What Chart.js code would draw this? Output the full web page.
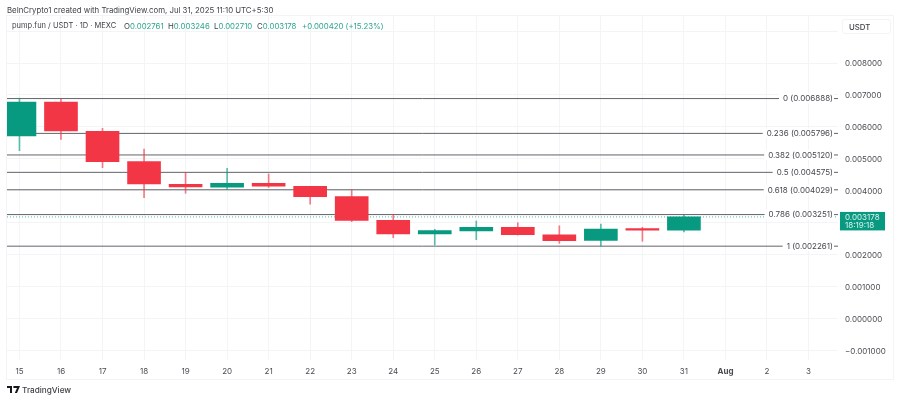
<!DOCTYPE html>
<html>
<head>
<meta charset="utf-8">
<script src="https://cdn.jsdelivr.net/npm/chart.js@4"></script>
<style>
  html, body { margin: 0; padding: 0; background: #fff; }
  body { width: 900px; height: 400px; position: relative; overflow: hidden; font-family: Inter, "Noto Sans", sans-serif; color: #3f4248; }
  canvas { position: absolute; left: 0; top: 0; }
  .txt { position: absolute; white-space: nowrap; font-size: 7.8px; line-height: 12px; }
  .up { color: #2aa58f; }
  #usdt { left: 842px; top: 19px; width: 49px; height: 15px; line-height: 15px; box-sizing: border-box; padding-left: 6px; border: 1px solid #f3f4f6; border-radius: 3px; font-weight: 500; }
  #tvname { font-size: 8.2px; font-weight: 500; }
</style>
</head>
<body>
<canvas id="grafica" width="900" height="400"></canvas>
<div class="txt" style="left:7px;top:4px">BeInCrypto1 created with TradingView.com, Jul 31, 2025 11:10 UTC+5:30</div>
<div class="txt" style="left:12px;top:20px;font-size:7.5px">pump.fun / USDT · 1D · MEXC</div>
<div class="txt" style="left:124px;top:20px">O<span class="up">0.002761</span></div>
<div class="txt" style="left:168px;top:20px">H<span class="up">0.003246</span></div>
<div class="txt" style="left:214px;top:20px">L<span class="up">0.002710</span></div>
<div class="txt" style="left:257px;top:20px">C<span class="up">0.003178</span></div>
<div class="txt up" style="left:302px;top:20px">+0.000420 (+15.23%)</div>
<div class="txt" id="usdt">USDT</div>
<svg style="position:absolute;left:7px;top:386px" width="13" height="8" viewBox="0 0 13 8">
  <path d="M0 0h5v7H3V2H0z M6.5 0H13L10 7H7.8L10 2H6.5z" fill="#16181d"/>
  <circle cx="7.6" cy="1" r="1" fill="#16181d"/>
</svg>
<div class="txt" id="tvname" style="left:22px;top:384px">TradingView</div>

<script>
const dias = [15, 16, 17, 18, 19, 20, 21, 22, 23, 24, 25, 26, 27, 28, 29, 30, 31];
const aperturas = [0.005715, 0.006780, 0.005860, 0.004915, 0.004200, 0.004107, 0.004232, 0.004138, 0.003812, 0.003072, 0.002643, 0.002737, 0.002853, 0.002620, 0.002445, 0.002810, 0.002761];
const maximos = [0.006900, 0.006875, 0.005956, 0.005307, 0.004577, 0.004700, 0.004524, 0.004138, 0.004020, 0.003260, 0.002790, 0.003050, 0.002997, 0.002900, 0.002956, 0.002853, 0.003246];
const minimos = [0.005254, 0.005610, 0.004720, 0.003780, 0.003918, 0.004040, 0.004100, 0.003574, 0.003030, 0.002527, 0.002298, 0.002464, 0.002610, 0.002350, 0.002266, 0.002414, 0.002710];
const cierres = [0.006780, 0.005871, 0.004910, 0.004210, 0.004116, 0.004232, 0.004138, 0.003812, 0.003072, 0.002643, 0.002746, 0.002853, 0.002620, 0.002433, 0.002800, 0.002760, 0.003178];

const fibRatios = ["0", "0.236", "0.382", "0.5", "0.618", "0.786", "1"];
const fibNiveles = [0.006888, 0.005796, 0.005120, 0.004575, 0.004029, 0.003251, 0.002261];
const fibTextos = ["0.006888", "0.005796", "0.005120", "0.004575", "0.004029", "0.003251", "0.002261"];

const xTicks = [15, 16, 17, 18, 19, 20, 21, 22, 23, 24, 25, 26, 27, 28, 29, 30, 31, 32, 33, 34];
const xTextos = ["15", "16", "17", "18", "19", "20", "21", "22", "23", "24", "25", "26", "27", "28", "29", "30", "31", "Aug", "2", "3"];
const yTicks = [0.009, 0.008, 0.007, 0.006, 0.005, 0.004, 0.003, 0.002, 0.001, 0, -0.001];
const yTextos = ["", "0.008000", "0.007000", "0.006000", "0.005000", "0.004000", "", "0.002000", "0.001000", "0.000000", "−0.001000"];

const precioActual = 0.003178;
const precioTexto = "0.003178";
const cuentaAtras = "18:19:18";

const VERDE = "#089981";
const ROJO = "#f23645";
const xMin = 14.7, xMax = 34.71;
const fuente = 'Inter, "Noto Sans", sans-serif';

const colores = dias.map((d, i) => cierres[i] >= aperturas[i] ? VERDE : ROJO);
const coloresMecha = dias.map((d, i) => cierres[i] >= aperturas[i] ? "rgba(8,153,129,.65)" : "rgba(242,54,69,.65)");

const datasets = [];
fibNiveles.forEach(n => {
  datasets.push({
    type: "line",
    data: [{ x: xMin, y: n }, { x: xMax, y: n }],
    borderColor: "#626469",
    borderWidth: 1,
    pointRadius: 0,
    order: 4
  });
});
datasets.push({
  type: "line",
  data: [{ x: xMin, y: precioActual }, { x: xMax, y: precioActual }],
  borderColor: "rgba(8,153,129,.7)",
  borderWidth: 1,
  borderDash: [1, 2],
  pointRadius: 0,
  order: 3
});
// mechas y cuerpos como barras flotantes
datasets.push({
  type: "bar",
  data: dias.map((d, i) => ({ x: d, y: [minimos[i], maximos[i]] })),
  backgroundColor: coloresMecha,
  barThickness: 1,
  grouped: false,
  order: 2
});
datasets.push({
  type: "bar",
  data: dias.map((d, i) => ({ x: d, y: [aperturas[i], cierres[i]] })),
  backgroundColor: colores,
  barThickness: 33,
  grouped: false,
  order: 1
});

const etiquetasPlugin = {
  id: "etiquetas",
  afterDatasetsDraw(chart) {
    const c = chart.ctx, y = chart.scales.y, area = chart.chartArea;
    c.save();
    c.font = "8px " + fuente;
    c.textBaseline = "middle";
    c.textAlign = "right";
    fibNiveles.forEach((n, i) => {
      const txt = fibRatios[i] + " (" + fibTextos[i] + ")";
      const w = c.measureText(txt).width;
      const py = y.getPixelForValue(n);
      c.fillStyle = "#fff";
      c.fillRect(area.right - 5 - w - 4, py - 5, w + 5, 10);
      c.fillStyle = "#45474d";
      c.fillText(txt, area.right - 5, py + 0.5);
    });
    c.restore();
  },
  afterDraw(chart) {
    const c = chart.ctx, y = chart.scales.y;
    c.save();
    // marco exterior
    c.strokeStyle = "#f3f4f6";
    c.lineWidth = 1;
    c.strokeRect(6.5, 15.5, 887, 364);
    // etiqueta del precio actual
    const py = y.getPixelForValue(precioActual);
    c.fillStyle = VERDE;
    c.fillRect(840, py - 5, 45, 18.5);
    c.fillStyle = "#dff3ef";
    c.font = "8px " + fuente;
    c.textAlign = "left";
    c.textBaseline = "middle";
    c.fillText(precioTexto, 845, py + 0.5);
    c.fillText(cuentaAtras, 845, py + 9);
    c.restore();
  }
};

new Chart(document.getElementById("grafica").getContext("2d"), {
  data: { datasets: datasets },
  plugins: [etiquetasPlugin],
  options: {
    responsive: false,
    animation: false,
    layout: { padding: { left: 7, top: 16, right: 0, bottom: 20 } },
    plugins: { legend: { display: false }, tooltip: { enabled: false } },
    scales: {
      x: {
        type: "linear",
        min: xMin,
        max: xMax,
        offset: false,
        border: { display: false },
        grid: { color: "#f3f4f6", offset: false, drawTicks: false },
        afterBuildTicks: s => { s.ticks = xTicks.map(v => ({ value: v })); },
        afterFit: s => { s.height = 20; },
        ticks: {
          autoSkip: false,
          maxRotation: 0,
          padding: 7,
          color: "#4a4c52",
          font: ctx => ({ family: fuente, size: 8, weight: ctx.tick && xTextos[xTicks.indexOf(ctx.tick.value)] === "Aug" ? "700" : "400" }),
          callback: v => xTextos[xTicks.indexOf(v)]
        }
      },
      y: {
        position: "right",
        min: -0.001307,
        max: 0.009476,
        border: { display: false },
        grid: { color: "#f3f4f6", drawTicks: false },
        afterBuildTicks: s => { s.ticks = yTicks.map(v => ({ value: v })); },
        afterFit: s => { s.width = 62; },
        ticks: {
          padding: 7,
          labelOffset: 1,
          color: "#4a4c52",
          font: { family: fuente, size: 8 },
          callback: v => yTextos[yTicks.indexOf(v)]
        }
      }
    }
  }
});
</script>
</body>
</html>
